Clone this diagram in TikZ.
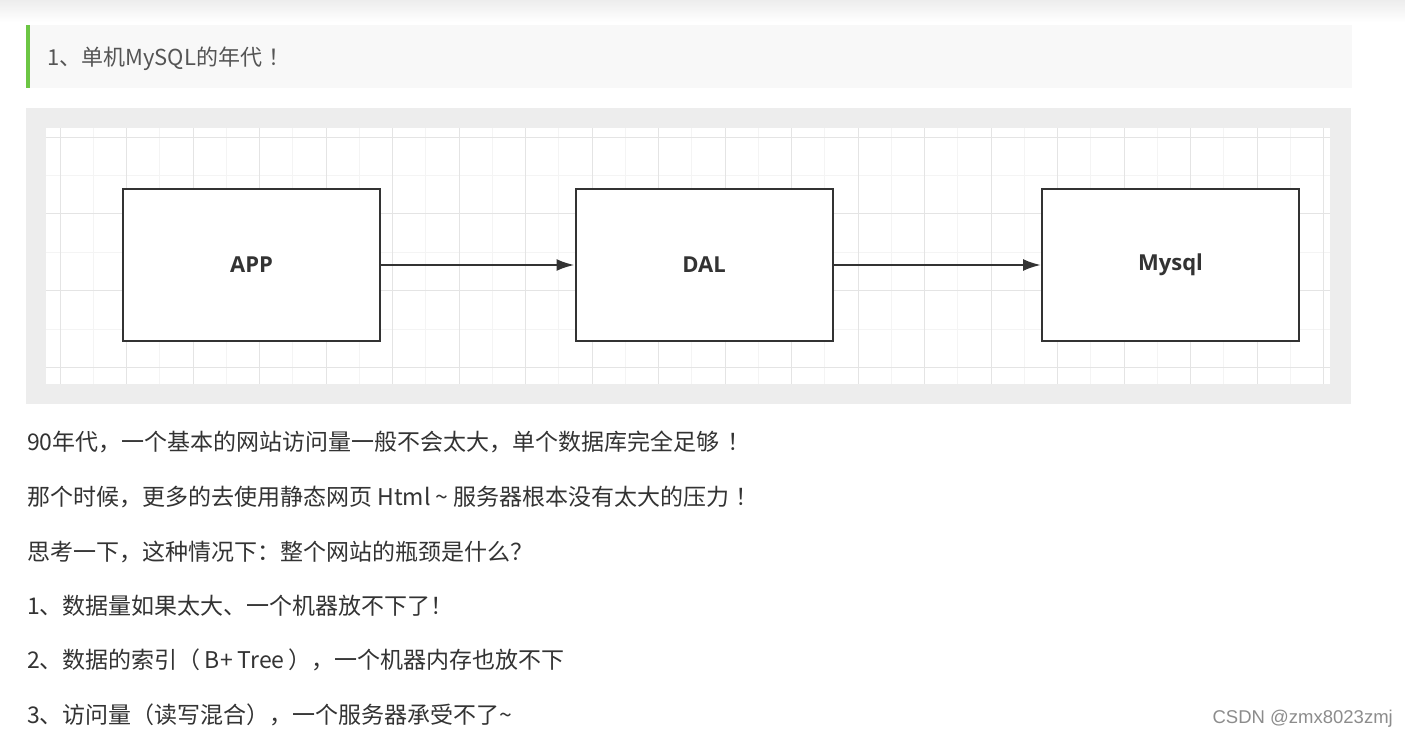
\documentclass[tikz,border=0pt]{standalone}
\usepackage{fontspec}
\setmainfont{Noto Sans CJK SC}
\newfontfamily\cjk{Noto Sans CJK SC}
\newfontfamily\boxfont{Open Sans}
\newfontfamily\wmfont{Liberation Sans}
\definecolor{txt}{HTML}{333333}
\definecolor{ttl}{HTML}{555555}
\definecolor{greenbar}{HTML}{6CC644}
\definecolor{hdrbg}{HTML}{F8F8F8}
\definecolor{framebg}{HTML}{EDEDED}
\definecolor{gridc}{HTML}{E4E4E4}
\definecolor{gridm}{HTML}{F4F4F4}
\definecolor{boxline}{HTML}{333333}
\tikzset{
  blk/.style={draw=boxline, line width=2pt, fill=white, minimum width=257pt, minimum height=152pt, inner sep=0pt, font=\boxfont\fontsize{22}{24}\selectfont\bfseries, text=txt},
  conn/.style={draw=boxline, line width=2.4pt, -{Latex[length=18pt,width=12pt]}},
  para/.style={anchor=base west, inner sep=0pt, font=\cjk\fontsize{23}{26}\selectfont, text=txt},
}
\usetikzlibrary{arrows.meta}
\begin{document}
\begin{tikzpicture}[x=1pt,y=-1pt]
\useasboundingbox (0,0) rectangle (1405,736);
\fill[white] (0,0) rectangle (1405,736);
\shade[top color=black!7, bottom color=white] (0,0) rectangle (1405,22);
% header
\fill[hdrbg] (30,25) rectangle (1352,88);
\fill[greenbar] (26,25) rectangle (30,88);
\node[anchor=base west, inner sep=0pt, font=\cjk\fontsize{22}{24}\selectfont, text=ttl] (title) at (47,65) {1、单机MySQL的年代\hspace{6pt}！};
% diagram frame
\fill[framebg] (26,108) rectangle (1351,404);
\fill[white] (46,128) rectangle (1330,384);
\begin{scope}
\clip (46,128) rectangle (1330,384);
\foreach \x in {0,...,40} {\draw[gridm, line width=0.5pt] ({93+33.25*\x},128) -- ({93+33.25*\x},384);}
\foreach \y in {0,...,8} {\draw[gridm, line width=0.5pt] (46,{175+38.5*\y}) -- (1330,{175+38.5*\y});}
\foreach \x in {0,...,20} {\draw[gridc, line width=0.7pt] ({60+66.5*\x},128) -- ({60+66.5*\x},384);}
\foreach \y in {137,213,290,367} {\draw[gridc, line width=0.7pt] (46,\y) -- (1330,\y);}
\end{scope}
% boxes
\node[blk] (app) at (251.5,265) {APP};
\node[blk] (dal) at (704,265) {DAL};
\node[blk] (mysql) at (1170.5,265) {Mysql};
\draw[conn] (app.east) -- (dal.west);
\draw[conn] (dal.east) -- (mysql.west);
% paragraphs
\node[para] (l1) at (27,450) {90年代，一个基本的网站访问量一般不会太大，单个数据库完全足够\hspace{8pt}！};
\node[para] (l2) at (27,505) {那个时候，更多的去使用静态网页 Html \textasciitilde{} 服务器根本没有太大的压力\hspace{6pt}！};
\node[para] (l3) at (27,560) {思考一下，这种情况下：整个网站的瓶颈是什么？};
\node[para] (l4) at (27,614) {1、数据量如果太大、一个机器放不下了！};
\node[para] (l5) at (27,668) {2、数据的索引（\hspace{4pt}B+ Tree\hspace{4pt}），一个机器内存也放不下};
\node[para] (l6) at (27,723) {3、访问量（读写混合），一个服务器承受不了\textasciitilde};
% watermark
\node[anchor=base east, inner sep=0pt, font=\wmfont\fontsize{18.5}{20}\selectfont, text=black!45] (wm) at (1393,723) {CSDN @zmx8023zmj};
\end{tikzpicture}
\end{document}
